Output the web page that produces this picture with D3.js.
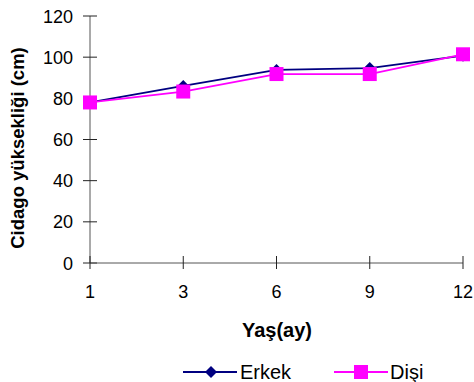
<!DOCTYPE html>
<html>
<head>
<meta charset="utf-8">
<script src="https://cdn.jsdelivr.net/npm/d3@7"></script>
<style>
  body { margin: 0; background: #fff; }
  svg { display: block; font-family: "Liberation Sans", Arial, sans-serif; }
</style>
</head>
<body>
<div class="container"></div>
<script>
const ages = ['1', '3', '6', '9', '12']
const erkek = [78, 86, 93.8, 94.7, 100.7]
const disi = [78, 83.3, 91.8, 91.8, 101.4]
const yTicks = [0, 20, 40, 60, 80, 100, 120]

const width = 474
const height = 382
const plotLeft = 90
const plotRight = 463
const plotTop = 16
const plotBottom = 263

const svg = d3.select('.container').append('svg')
  .attr('width', width).attr('height', height)

const x = d3.scalePoint().domain(ages).range([plotLeft, plotRight])
const y = d3.scaleLinear().domain([0, 120]).range([plotBottom, plotTop])

// y axis
const yAxis = svg.append('g').attr('transform', `translate(${plotLeft},0)`)
yAxis.append('line').attr('y1', y(0)).attr('y2', y(120)).attr('stroke', '#555')
yAxis.selectAll('line.tick').data(yTicks).enter().append('line')
  .attr('class', 'tick')
  .attr('x1', -7).attr('x2', 7)
  .attr('y1', d => y(d)).attr('y2', d => y(d))
  .attr('stroke', '#222')
yAxis.selectAll('text').data(yTicks).enter().append('text')
  .attr('x', -17).attr('y', d => y(d) + 6.5)
  .attr('text-anchor', 'end').attr('font-size', 18)
  .text(d => d)

// x axis
const xAxis = svg.append('g').attr('transform', `translate(0,${plotBottom})`)
xAxis.append('line').attr('x1', plotLeft).attr('x2', plotRight).attr('stroke', '#555')
xAxis.selectAll('line.tick').data(ages).enter().append('line')
  .attr('class', 'tick')
  .attr('x1', d => x(d)).attr('x2', d => x(d))
  .attr('y1', -7).attr('y2', 6)
  .attr('stroke', '#222')
xAxis.selectAll('text').data(ages).enter().append('text')
  .attr('x', d => x(d)).attr('y', 35)
  .attr('text-anchor', 'middle').attr('font-size', 18)
  .text(d => d)

// titles
svg.append('text')
  .attr('x', 277).attr('y', 337)
  .attr('text-anchor', 'middle').attr('font-size', 20).attr('font-weight', 'bold')
  .text('Yaş(ay)')

svg.append('text')
  .attr('transform', 'translate(24,148) rotate(-90)')
  .attr('text-anchor', 'middle').attr('font-size', 18.5).attr('font-weight', 'bold')
  .text('Cidago yüksekliği (cm)')

// markers: squarish diamond like excel's
const excelDiamond = {
  draw(ctx, size) {
    const r = Math.sqrt(size / 2)
    ctx.moveTo(0, -r)
    ctx.lineTo(r, 0)
    ctx.lineTo(0, r)
    ctx.lineTo(-r, 0)
    ctx.closePath()
  }
}
const diamond = d3.symbol().type(excelDiamond).size(72)

const line = d3.line().x((d, i) => x(ages[i])).y(d => y(d))

svg.append('path').datum(erkek).attr('d', line)
  .attr('fill', 'none').attr('stroke', '#000080').attr('stroke-width', 1.8)
svg.selectAll('path.erkek').data(erkek).enter().append('path')
  .attr('class', 'erkek')
  .attr('transform', (d, i) => `translate(${x(ages[i])},${y(d)})`)
  .attr('d', diamond).attr('fill', '#000080')

svg.append('path').datum(disi).attr('d', line)
  .attr('fill', 'none').attr('stroke', '#ff00ff').attr('stroke-width', 1.8)
svg.selectAll('rect.disi').data(disi).enter().append('rect')
  .attr('class', 'disi')
  .attr('x', (d, i) => x(ages[i]) - 7).attr('y', d => y(d) - 7)
  .attr('width', 14).attr('height', 14).attr('fill', '#ff00ff')

// legend
const legY = 372
const leg1 = svg.append('g')
leg1.append('line').attr('x1', 183).attr('x2', 237).attr('y1', legY).attr('y2', legY)
  .attr('stroke', '#000080').attr('stroke-width', 1.8)
leg1.append('path').attr('transform', `translate(211,${legY})`).attr('d', diamond).attr('fill', '#000080')
leg1.append('text').attr('x', 240).attr('y', legY + 7).attr('font-size', 20).text('Erkek')

const leg2 = svg.append('g')
leg2.append('line').attr('x1', 334).attr('x2', 388).attr('y1', legY).attr('y2', legY)
  .attr('stroke', '#ff00ff').attr('stroke-width', 1.8)
leg2.append('rect').attr('x', 354).attr('y', legY - 7).attr('width', 14).attr('height', 14).attr('fill', '#ff00ff')
leg2.append('text').attr('x', 390).attr('y', legY + 7).attr('font-size', 20).text('Dişi')
</script>
</body>
</html>
